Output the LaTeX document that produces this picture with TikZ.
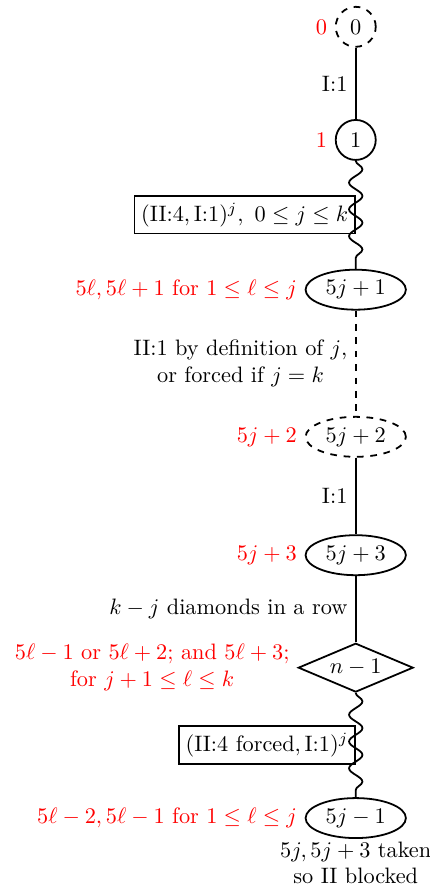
\documentclass[tikz,border=0pt]{standalone}
\usepackage{tikz}
\usetikzlibrary{shapes.geometric,decorations.pathmorphing}

\begin{document}
\begin{tikzpicture}[x=1.03cm, y=1.03cm,
    circ/.style={draw, thick, circle, minimum size=0.63cm, inner sep=1pt},
    oval/.style={draw, thick, ellipse, minimum width=1.58cm,
                 minimum height=0.63cm, inner sep=1pt},
    diam/.style={draw, thick, diamond, aspect=2, minimum width=1.81cm,
                 inner sep=1pt},
    movebox/.style={draw, thick, rectangle, inner sep=3pt},
    wavy/.style={thick, decorate,
                 decoration={snake, amplitude=3pt, segment length=12pt}},
  ]
  \useasboundingbox (0,0) rectangle (6.575,-13.61);

  \node[circ, dashed] (n0) at (5.44,-0.41) [label={[red]left:$0$}] {$0$};
  \node[circ]         (n1) at (5.44,-2.14) [label={[red]left:$1$}] {$1$};
  \node[oval]         (n2) at (5.44,-4.43)
    [label={[red]left:$5\ell, 5\ell+1$ for $1\le \ell\le j$}] {$5j+1$};
  \node[oval, dashed] (n3) at (5.44,-6.68) [label={[red]left:$5j+2$}] {$5j+2$};
  \node[oval]         (n4) at (5.44,-8.49) [label={[red]left:$5j+3$}] {$5j+3$};
  \node[diam]         (n5) at (5.44,-10.21)
    [label={[red, align=center]left:$5\ell-1$ or $5\ell+2$; and $5\ell+3$;\\
            for $j+1\le \ell\le k$}] {$n-1$};
  \node[oval]         (n6) at (5.44,-12.51)
    [label={[red]left:$5\ell-2, 5\ell-1$ for $1\le \ell\le j$},
     label={[align=center, inner sep=1pt]below:$5j, 5j+3$ taken\\so II blocked}]
    {$5j-1$};

  \draw[thick] (n0) -- (n1) node[midway, left] {I:1};
  \draw[wavy]  (n1) -- (n2)
    node[midway, left, movebox] {$(\mbox{II:4}, \mbox{I:1})^j,\ 0\le j\le k$};
  \draw[thick, dashed] (n2) -- (n3)
    node[midway, left, align=center] {II:1 by definition of $j$,\\or forced if $j=k$};
  \draw[thick] (n3) -- (n4) node[midway, left] {I:1};
  \draw[thick] (n4) -- (n5) node[midway, left] {$k-j$ diamonds in a row};
  \draw[wavy]  (n5) -- (n6)
    node[midway, left, movebox] {$(\mbox{II:4 forced}, \mbox{I:1})^j$};
\end{tikzpicture}
\end{document}
